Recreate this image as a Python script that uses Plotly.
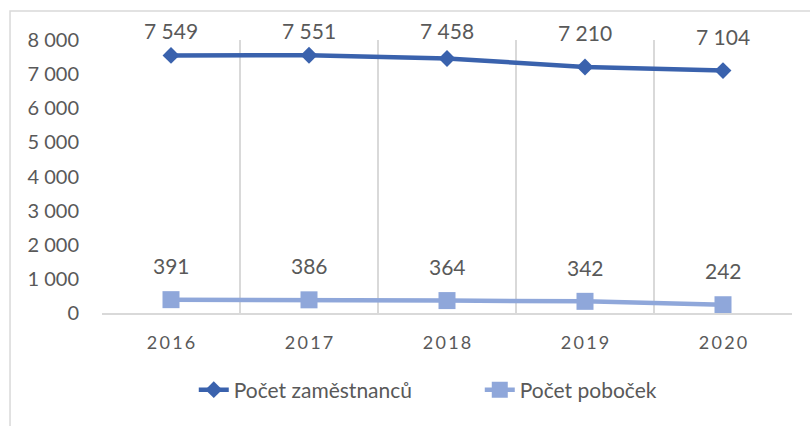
import plotly.graph_objects as go

years = ["2016", "2017", "2018", "2019", "2020"]
zamestnanci = [7549, 7551, 7458, 7210, 7104]
pobocky = [391, 386, 364, 342, 242]
y_ticks = [0, 1000, 2000, 3000, 4000, 5000, 6000, 7000, 8000]

Y_MAX = 8000

def fmt(v):
    return f"{v:,}".replace(",", " ")

def spaced(s):
    return "\u2009".join(s)

FONT = "Lato, Carlito, Calibri, sans-serif"
GRAY = "#595959"
DARK = "#3A62AD"
LIGHT = "#8FA7DA"

fig = go.Figure()
fig.add_trace(go.Scatter(
    x=years, y=zamestnanci, name="Počet zaměstnanců", mode="lines+markers",
    line=dict(color=DARK, width=4.5),
    marker=dict(symbol="diamond", size=13, color=DARK),
))
fig.add_trace(go.Scatter(
    x=years, y=pobocky, name="Počet poboček", mode="lines+markers",
    line=dict(color=LIGHT, width=4.5),
    marker=dict(symbol="square", size=17, color=LIGHT),
))

# data labels: above each point, kept inside the chart area at the top
annotations = []
for series in (zamestnanci, pobocky):
    for i, v in enumerate(series):
        annotations.append(dict(
            x=i, xref="x", y=min(v / Y_MAX + 0.125, 1.033), yref="paper",
            text=fmt(v), showarrow=False,
            font=dict(family=FONT, size=21, color=GRAY),
            xanchor="center", yanchor="middle",
        ))

fig.update_layout(
    width=810, height=426,
    margin=dict(l=102, r=18, t=40, b=113),
    paper_bgcolor="white", plot_bgcolor="white",
    font=dict(family=FONT, color=GRAY, size=18),
    showlegend=True,
    legend=dict(orientation="h", x=0.133, xanchor="left", y=-0.282, yanchor="middle",
                font=dict(family=FONT, size=21, color=GRAY),
                entrywidth=241, entrywidthmode="pixels"),
    annotations=annotations,
    shapes=[dict(type="rect", xref="paper", yref="paper",
                 x0=-0.1333, x1=1.5, y0=-0.8, y1=1.106,
                 line=dict(color="#D9D9D9", width=1.5), layer="below")],
)
fig.update_xaxes(
    type="category", tickson="boundaries",
    tickvals=years, ticktext=[spaced(y) for y in years],
    showgrid=True, gridcolor="#D9D9D9", gridwidth=1.5,
    showline=True, linecolor="#D9D9D9", linewidth=1.5,
    ticks="", tickfont=dict(family=FONT, size=18, color=GRAY),
    ticklabelstandoff=13,
    range=[-0.5, 4.5],
)
fig.update_yaxes(
    range=[0, Y_MAX], tickvals=y_ticks, ticktext=[fmt(v) for v in y_ticks],
    showgrid=False, zeroline=False, showline=False, ticks="",
    ticklabelstandoff=22,
    tickfont=dict(family=FONT, size=20, color=GRAY),
)

fig.write_html("out.html", config={"displayModeBar": False},
               post_script="document.body.style.margin='0';document.body.style.overflow='hidden';")
